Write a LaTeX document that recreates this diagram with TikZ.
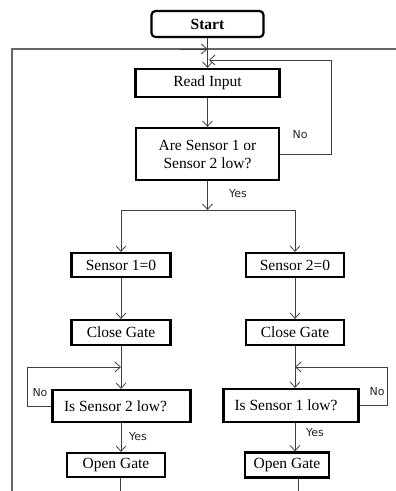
\documentclass[tikz,border=0pt]{standalone}
\usepackage{fontspec}
\setmainfont{Liberation Serif}
\newfontfamily\lblfont{DejaVu Sans}
\usetikzlibrary{arrows.meta}
\begin{document}
\begin{tikzpicture}[x=1pt,y=-1pt,
  box/.style={draw,line width=2.2pt,inner sep=0pt,font=\fontsize{15.5}{18}\selectfont},
  conn/.style={draw=black!75,line width=0.8pt},
  outer/.style={draw=black!60,line width=1.4pt},
  arr/.style={conn,-{Straight Barb[length=5.5pt,width=10pt]}},
  lbl/.style={font=\lblfont\fontsize{11}{13}\selectfont,inner sep=0pt,text=black!85}]
\useasboundingbox (0,0) rectangle (396,491);
% boxes
\node[box,rounded corners=4pt,minimum width=112pt,minimum height=26pt,font=\fontsize{15.5}{18}\selectfont\bfseries] (start) at (207.5,24) {Start};
\node[box,minimum width=144pt,minimum height=28pt] (read) at (207.5,83) {Read Input};
\node[box,minimum width=143pt,minimum height=52pt,align=center] (dec) at (207.5,154) {Are Sensor 1 or\\Sensor 2 low?};
\node[box,minimum width=99pt,minimum height=24pt] (s1) at (121,265) {Sensor 1=0};
\node[box,minimum width=98pt,minimum height=24pt] (s2) at (295,265) {Sensor 2=0};
\node[box,minimum width=99pt,minimum height=25pt] (cg1) at (121,332.5) {Close Gate};
\node[box,minimum width=98pt,minimum height=25pt] (cg2) at (295,332.5) {Close Gate};
\node[box,minimum width=138pt,minimum height=32pt] (d1) at (121.5,406) {Is Sensor 2 low?\hspace*{12pt}};
\node[box,minimum width=135pt,minimum height=33pt] (d2) at (291,405.5) {Is Sensor 1 low?\hspace*{10pt}};
\node[box,minimum width=98pt,minimum height=24pt] (og1) at (116,465) {Open Gate};
\node[box,minimum width=84pt,minimum height=25pt] (og2) at (287,465) {Open Gate};
% free ends
\coordinate (lb) at (12,491);
\coordinate (cross) at (207.5,49);
\coordinate (tr) at (396,49);
\coordinate (nr) at (331,60);
\coordinate (nhit) at (209,60);
\coordinate (split) at (207.5,210);
\coordinate (nl1) at (27,367);
\coordinate (nl2) at (387,367);
\coordinate (e1) at (120,491);
\coordinate (e2) at (298.5,491);
% outer loop
\draw[outer] (lb) |- (cross) -- (tr);
\draw[conn,-{Straight Barb[length=5.5pt,width=10pt]}] (180,49) -- (cross);
% main flow
\draw[arr] (start.south) -- (read.north);
\draw[arr] (read.south) -- (dec.north);
\draw[arr] (dec.east) -| (nr) -- (nhit);
\draw[arr] (dec.south) -- (split);
\draw[arr] (split) -| (s1.north);
\draw[arr] (split) -| (s2.north);
\draw[arr] (s1.south) -- (cg1.north);
\draw[arr] (s2.south) -- (cg2.north);
\draw[arr] (cg1.south) -- (cg1.south |- d1.north);
\draw[arr] (cg2.south) -- (cg2.south |- d2.north);
\draw[arr] (d1.west) -| (nl1) -- (cg1.south |- nl1);
\draw[arr] (d2.east) -| (nl2) -- (cg2.south |- nl2);
\draw[arr] (cg1.south |- d1.south) -- (cg1.south |- og1.north);
\draw[arr] (cg2.south |- d2.south) -- (cg2.south |- og2.north);
\draw[conn] (e1 |- og1.south) -- (e1);
\draw[conn] (e2 |- og2.south) -- (e2);
% labels
\node[lbl] (lno) at (300,135) {No};
\node[lbl] (lyes) at (238,194) {Yes};
\node[lbl] (lno1) at (40,393) {No};
\node[lbl] (lyes1) at (138,437) {Yes};
\node[lbl] (lno2) at (377,392) {No};
\node[lbl] (lyes2) at (315,433) {Yes};
\end{tikzpicture}
\end{document}
